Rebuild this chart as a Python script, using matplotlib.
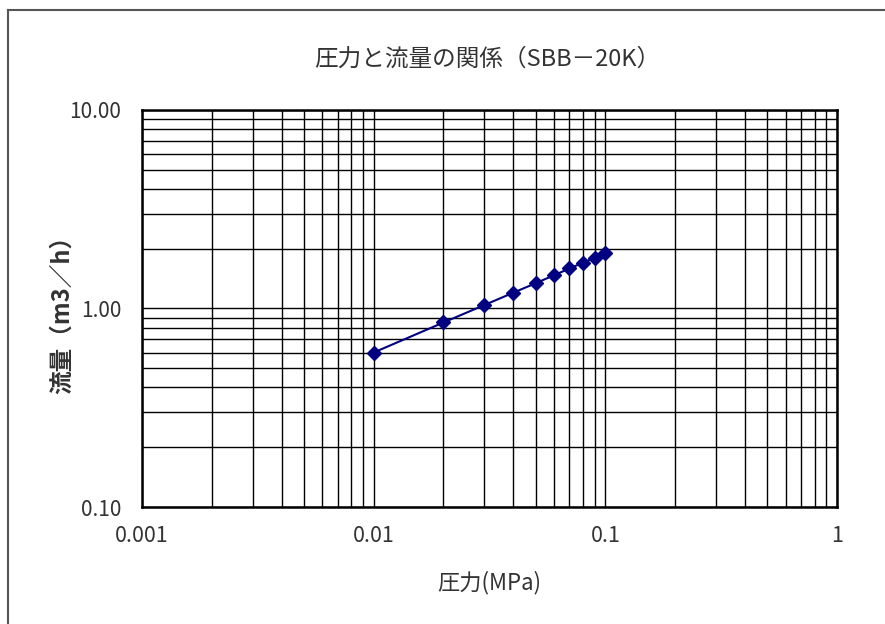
import numpy as np
import matplotlib
matplotlib.use('Agg')
import matplotlib.pyplot as plt
from matplotlib.ticker import LogLocator, FixedLocator, FixedFormatter, NullFormatter
from matplotlib.lines import Line2D

plt.rcParams['font.family'] = ['Noto Sans CJK JP', 'DejaVu Sans']

# data
pressure = [0.01, 0.02, 0.03, 0.04, 0.05, 0.06, 0.07, 0.08, 0.09, 0.10]   # MPa
flow = [0.60, 0.85, 1.04, 1.20, 1.34, 1.47, 1.59, 1.70, 1.80, 1.90]       # m3/h

x_ticks = [0.001, 0.01, 0.1, 1]
x_tick_labels = ['0.001', '0.01', '0.1', '1']
y_ticks = [0.1, 1, 10]
y_tick_labels = ['0.10', '1.00', '10.00']

title = '圧力と流量の関係（SBB－20K）'
xlabel = '圧力(MPa)'
ylabel = '流量（m3／h）'

fig = plt.figure(figsize=(8.85, 6.24), dpi=100)
ax = fig.add_axes([0.1605, 0.1875, 0.7853, 0.6363])

ax.set_xscale('log')
ax.set_yscale('log')
ax.set_xlim(0.001, 1)
ax.set_ylim(0.1, 10)

# grid on every decade step
ax.xaxis.set_minor_locator(LogLocator(base=10, subs=np.arange(2, 10)))
ax.yaxis.set_minor_locator(LogLocator(base=10, subs=np.arange(2, 10)))
ax.xaxis.set_minor_formatter(NullFormatter())
ax.yaxis.set_minor_formatter(NullFormatter())
ax.grid(True, which='both', color='black', linewidth=1.0)

ax.xaxis.set_major_locator(FixedLocator(x_ticks))
ax.xaxis.set_major_formatter(FixedFormatter(x_tick_labels))
ax.yaxis.set_major_locator(FixedLocator(y_ticks))
ax.yaxis.set_major_formatter(FixedFormatter(y_tick_labels))
ax.tick_params(which='both', length=0, labelcolor='#333333')
ax.tick_params(axis='x', labelsize=15.5, pad=13)
ax.tick_params(axis='y', labelsize=15, pad=15)

for s in ax.spines.values():
    s.set_color('black')
    s.set_linewidth(1.8)

ax.plot(pressure, flow, color='#000080', linewidth=1.5, marker='D',
        markersize=7, markerfacecolor='#000080', markeredgecolor='#000080',
        zorder=5)

fig.text(0.551, 0.905, title, ha='center', va='center', fontsize=17,
         color='#333333')
ax.set_xlabel(xlabel, fontsize=16, color='#333333', labelpad=17)
ax.set_ylabel(ylabel, fontsize=17, fontweight='bold', color='#333333',
              va='center')
ax.yaxis.set_label_coords(-0.115, 0.5)

# outer chart border (top and left visible)
fig.add_artist(Line2D([0.009, 0.009], [0, 0.984], color='#555555',
                      linewidth=1.5, transform=fig.transFigure))
fig.add_artist(Line2D([0.009, 1.0], [0.984, 0.984], color='#555555',
                      linewidth=1.5, transform=fig.transFigure))

fig.savefig('out.png', dpi=100)
